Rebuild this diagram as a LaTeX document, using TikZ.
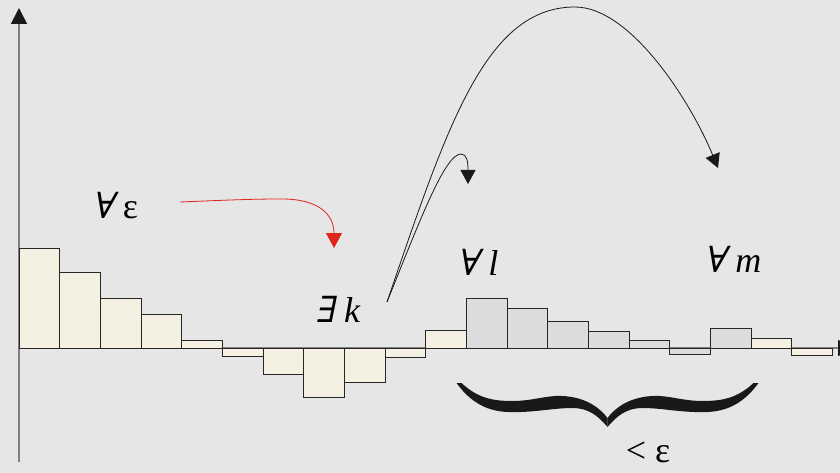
\RequirePackage{fix-cm}
\documentclass[tikz,border=0pt]{standalone}
\usepackage{fontspec}
\setmainfont{Liberation Serif}
\newfontfamily\quantfont[FakeSlant=0.2]{DejaVu Serif}
\usetikzlibrary{arrows.meta}
\definecolor{backgr}{HTML}{E6E6E6}
\definecolor{creamfill}{HTML}{F4F1E3}
\definecolor{greyfill}{HTML}{DCDCDC}
\definecolor{axisgrey}{HTML}{808080}
\definecolor{arrowred}{HTML}{E0261C}
\newcommand{\fa}{{\quantfont ∀}}
\newcommand{\ex}{{\quantfont ∃}}
\newcommand{\halfbrace}{(-151,0) -- (-146,0) .. controls (-130,15) and (-115,18) .. (-95,18) .. controls (-75,18) and (-60,12) .. (-45,13) .. controls (-25,14) and (-10,22) .. (0,35) -- (0,44) .. controls (-10,32) and (-20,25) .. (-35,25) .. controls (-55,25) and (-75,30) .. (-100,29) .. controls (-125,28) and (-140,15) .. (-151,0) -- cycle}

\begin{document}
\begin{tikzpicture}[x=1pt,y=-1pt]
    \tikzstyle{axis}=[draw=axisgrey, line width=1.6pt, -{Triangle[length=16pt,width=16pt,color=black!90]}]
    \tikzstyle{plainbar}=[draw=black!85, line width=0.9pt, fill=creamfill]
    \tikzstyle{tailbar}=[draw=black!85, line width=0.9pt, fill=greyfill]
    \tikzstyle{quant}=[font=\fontsize{36}{40}\selectfont, inner sep=2pt]
    \tikzstyle{jump}=[draw=black!90, line width=0.8pt, -{Triangle[length=14pt,width=15pt]}]
    \tikzstyle{redjump}=[draw=arrowred, line width=0.8pt, -{Triangle[length=15pt,width=16pt]}]
    \tikzstyle{bracefill}=[fill=black!90]

    \useasboundingbox[fill=backgr] (0,0) rectangle (840,473);
    \clip (0,0) rectangle (840,473);

    \coordinate (ybottom) at (19,462);
    \coordinate (ytop) at (19,8);
    \coordinate (origin) at (19,348);
    \coordinate (xend) at (854,348);
    \draw[axis] (ybottom) -- (ytop);
    \draw[axis] (origin) -- (xend);

    \draw[plainbar] (19,348) rectangle (59.7,248.7);
    \draw[plainbar] (59.7,348) rectangle (100.3,272.7);
    \draw[plainbar] (100.3,348) rectangle (141,298.3);
    \draw[plainbar] (141,348) rectangle (181.7,314.7);
    \draw[plainbar] (181.7,348) rectangle (222.3,340.7);
    \draw[plainbar] (222.3,348) rectangle (263,356.7);
    \draw[plainbar] (263,348) rectangle (303.7,374);
    \draw[plainbar] (303.7,348) rectangle (344.3,397.3);
    \draw[plainbar] (344.3,348) rectangle (385,382);
    \draw[plainbar] (385,348) rectangle (425.7,357.5);
    \draw[plainbar] (425.7,348) rectangle (466.3,330.3);
    \draw[tailbar] (466.3,348) rectangle (507,298.3);
    \draw[tailbar] (507,348) rectangle (547.7,308.3);
    \draw[tailbar] (547.7,348) rectangle (588.3,321.3);
    \draw[tailbar] (588.3,348) rectangle (629,331.7);
    \draw[tailbar] (629,348) rectangle (669.7,340);
    \draw[tailbar] (669.7,348) rectangle (710.3,354.3);
    \draw[tailbar] (710.3,348) rectangle (751,328);
    \draw[plainbar] (751,348) rectangle (791.7,338.3);
    \draw[plainbar] (791.7,348) rectangle (832.3,355.3);

    \node[quant] (alleps) at (115,206) {\fa{} ε};
    \node[quant] (existk) at (338,309) {\ex{} \textit{k}};
    \node[quant] (alll) at (478,262) {\fa{} \textit{l}};
    \node[quant] (allm) at (733,259) {\fa{} \textit{m}};
    \node[quant, inner sep=0pt] (lesseps) at (648,452) {< ε};

    \coordinate (redstart) at (180,202);
    \coordinate (redend) at (334,248);
    \coordinate (kout) at (387,302);
    \coordinate (ltip) at (468,184);
    \coordinate (mtip) at (718,168);

    \draw[redjump] (redstart) .. controls (230,200) and (250,199) .. (282,199) .. controls (318,199) and (334,214) .. (redend);
    \draw[jump] (kout) .. controls (420,220) and (445,154) .. (461,154) .. controls (467,154) and (468,162) .. (ltip);
    \draw[jump] (kout) .. controls (447,127) and (485,7) .. (575,7) .. controls (630,7) and (690,100) .. (mtip);

    \fill[bracefill, shift={(607.5,383)}] \halfbrace;
    \fill[bracefill, shift={(607.5,383)}, xscale=-1] \halfbrace;
\end{tikzpicture}
\end{document}
